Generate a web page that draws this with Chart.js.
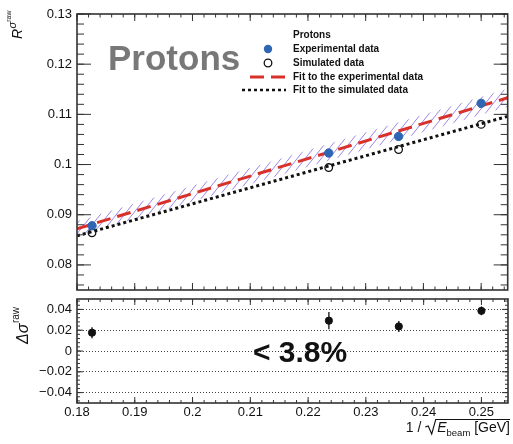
<!DOCTYPE html>
<html>
<head>
<meta charset="utf-8">
<script src="https://cdn.jsdelivr.net/npm/chart.js@4/dist/chart.umd.min.js"></script>
<style>
  html, body { margin: 0; padding: 0; background: #fff; }
  #wrap { position: relative; width: 513px; height: 444px; }
  #wrap canvas { position: absolute; left: 0; top: 0; }
</style>
</head>
<body>
<div id="wrap">
  <canvas id="residui" width="513" height="444"></canvas>
  <canvas id="rapporto" width="513" height="444"></canvas>
</div>
<script>
'use strict';

// ---- dati ----
const xVals    = [0.1826, 0.2236, 0.2357, 0.25];      // 1/sqrt(E) per 30, 20, 18, 16 GeV
const expData  = [0.0878, 0.1023, 0.1056, 0.1122];
const simData  = [0.0864, 0.0994, 0.1030, 0.1080];

const fitX     = [0.18, 0.2546];
const expFit   = [0.0872, 0.1133];
const simFit   = [0.0858, 0.1096];
const bandLow  = [0.0857, 0.1115];
const bandHigh = [0.0887, 0.1151];

const resData  = [0.0176, 0.0292, 0.0236, 0.0386];
const resErr   = [0.0053, 0.0082, 0.0053, 0.0043];

const xTicks   = [0.18, 0.19, 0.2, 0.21, 0.22, 0.23, 0.24, 0.25];
const topTicks = [0.08, 0.09, 0.1, 0.11, 0.12, 0.13];
const resTicks = [-0.04, -0.02, 0, 0.02, 0.04];

const X_MIN = 0.18, X_MAX = 0.2546;
const FONT = "'Liberation Sans', Arial, Helvetica, sans-serif";
const INK = '#111';

const pts = (xs, ys) => xs.map((x, i) => ({ x, y: ys[i] }));
const fmtTick = v => {
  const s = String(+Math.abs(v).toFixed(3));
  return v < -1e-9 ? '\u2212' + s : s;
};
const fixTicks = list => scale => { scale.ticks = list.map(v => ({ value: v })); };

// tratteggio della banda del fit
function hatchPattern() {
  const c = document.createElement('canvas');
  c.width = 8; c.height = 10;
  const g = c.getContext('2d');
  g.strokeStyle = 'rgba(140,110,228,0.85)';
  g.lineWidth = 1;
  g.beginPath();
  g.moveTo(0, 10); g.lineTo(8, 0);
  g.moveTo(-2, 2.5); g.lineTo(2, -2.5);
  g.moveTo(6, 12.5); g.lineTo(10, 7.5);
  g.stroke();
  return g.createPattern(c, 'repeat');
}

// tacche interne stile ROOT + cornice
function drawTicks(chart, id, step, len) {
  const s = chart.scales[id], a = chart.chartArea, ctx = chart.ctx;
  const n0 = Math.ceil(s.min / step - 1e-6), n1 = Math.floor(s.max / step + 1e-6);
  ctx.beginPath();
  for (let i = n0; i <= n1; i++) {
    const p = s.getPixelForValue(i * step);
    if (s.isHorizontal()) {
      ctx.moveTo(p, a.bottom); ctx.lineTo(p, a.bottom - len);
      ctx.moveTo(p, a.top);    ctx.lineTo(p, a.top + len);
    } else {
      ctx.moveTo(a.left, p);  ctx.lineTo(a.left + len, p);
      ctx.moveTo(a.right, p); ctx.lineTo(a.right - len, p);
    }
  }
  ctx.stroke();
}

function frameTicks(spec) {
  return {
    id: 'frameTicks',
    afterDraw(chart) {
      const ctx = chart.ctx, a = chart.chartArea;
      ctx.save();
      ctx.strokeStyle = '#333';
      ctx.lineWidth = 1;
      spec.forEach(t => drawTicks(chart, t[0], t[1], t[2]));
      ctx.lineWidth = 1.6;
      ctx.strokeRect(a.left, a.top, a.right - a.left, a.bottom - a.top);
      ctx.restore();
    }
  };
}

// testo ruotato con apici (titolo asse y)
function drawRotated(ctx, x, y, parts) {
  ctx.save();
  ctx.translate(x, y);
  ctx.rotate(-Math.PI / 2);
  ctx.fillStyle = INK;
  ctx.textBaseline = 'alphabetic';
  let cx = 0;
  parts.forEach(p => {
    ctx.font = p.font;
    ctx.fillText(p.t, cx + (p.dx || 0), -(p.rise || 0));
    cx += ctx.measureText(p.t).width + (p.dx || 0);
  });
  ctx.restore();
}

// ---- pannello superiore: annotazioni e legenda ----
const topDecor = {
  id: 'topDecor',
  afterDraw(chart) {
    const ctx = chart.ctx;
    ctx.save();
    ctx.fillStyle = '#787878';
    ctx.font = 'bold 35px ' + FONT;
    ctx.textBaseline = 'alphabetic';
    ctx.fillText('Protons', 108, 70);

    // legenda
    ctx.fillStyle = INK;
    ctx.font = 'bold 10px ' + FONT;
    ctx.textBaseline = 'middle';
    const tx = 293;
    const rows = ['Protons', 'Experimental data', 'Simulated data',
                  'Fit to the experimental data', 'Fit to the simulated data'];
    const ry = [35, 49, 63, 77, 90];
    rows.forEach((r, i) => ctx.fillText(r, tx, ry[i]));

    ctx.beginPath();
    ctx.fillStyle = '#2f66b3';
    ctx.arc(268, ry[1], 4.2, 0, Math.PI * 2);
    ctx.fill();
    ctx.beginPath();
    ctx.strokeStyle = INK;
    ctx.lineWidth = 1.3;
    ctx.arc(268, ry[2], 3.8, 0, Math.PI * 2);
    ctx.stroke();

    ctx.lineWidth = 3;
    ctx.strokeStyle = '#d8312b';
    ctx.setLineDash([14, 7]);
    ctx.beginPath(); ctx.moveTo(250, ry[3]); ctx.lineTo(285, ry[3]); ctx.stroke();
    ctx.strokeStyle = INK;
    ctx.lineWidth = 2.6;
    ctx.setLineDash([3, 3]);
    ctx.beginPath(); ctx.moveTo(242, ry[4]); ctx.lineTo(286, ry[4]); ctx.stroke();
    ctx.setLineDash([]);
    ctx.restore();

    drawRotated(ctx, 22, 39, [
      { t: 'R', font: 'italic 14px ' + FONT },
      { t: '\u03c3', font: 'italic 11px ' + FONT, rise: 6, dx: 0.5 },
      { t: 'raw', font: '7px ' + FONT, rise: 11 }
    ]);
  }
};

// ---- pannello inferiore: barre d'errore, titoli ----
const resDecor = {
  id: 'resDecor',
  beforeDatasetsDraw(chart) {
    const ctx = chart.ctx, sx = chart.scales.x, sy = chart.scales.y;
    ctx.save();
    ctx.strokeStyle = INK;
    ctx.lineWidth = 1.3;
    ctx.beginPath();
    xVals.forEach((x, i) => {
      const px = sx.getPixelForValue(x);
      ctx.moveTo(px, sy.getPixelForValue(resData[i] - resErr[i]));
      ctx.lineTo(px, sy.getPixelForValue(resData[i] + resErr[i]));
    });
    ctx.stroke();
    ctx.restore();
  },
  afterDraw(chart) {
    const ctx = chart.ctx;
    ctx.save();
    ctx.fillStyle = INK;
    ctx.textBaseline = 'alphabetic';
    ctx.font = 'bold 30px ' + FONT;
    ctx.fillText('< 3.8%', 253, 362);

    // 1 / sqrt(E_beam [GeV])
    const base = 432, right = 510;
    const fMain = '14px ' + FONT, fIt = 'italic 14px ' + FONT, fSub = '9.5px ' + FONT;
    const w = (t, f) => { ctx.font = f; return ctx.measureText(t).width; };
    const rootW = 12;
    const total = w('1 / ', fMain) + rootW + w('E', fIt) + w('beam', fSub) + w(' [GeV]', fMain);
    let x = right - total;
    ctx.font = fMain; ctx.fillText('1 / ', x, base); x += w('1 / ', fMain);
    const topY = base - 12.5;
    ctx.strokeStyle = INK;
    ctx.lineWidth = 1.1;
    ctx.beginPath();
    ctx.moveTo(x, base - 5);
    ctx.lineTo(x + 3, base - 6);
    ctx.lineTo(x + 6.5, base + 2);
    ctx.lineTo(x + 10.5, topY);
    ctx.lineTo(right, topY);
    ctx.stroke();
    x += rootW;
    ctx.font = fIt; ctx.fillText('E', x, base); x += w('E', fIt);
    ctx.font = fSub; ctx.fillText('beam', x, base + 3.5); x += w('beam', fSub);
    ctx.font = fMain; ctx.fillText(' [GeV]', x, base);
    ctx.restore();

    drawRotated(ctx, 28, 344, [
      { t: '\u0394', font: 'italic 16px ' + FONT },
      { t: '\u03c3', font: 'italic 16px ' + FONT },
      { t: 'raw', font: '10px ' + FONT, rise: 9, dx: 0.5 }
    ]);
  }
};

const tickFont = { family: FONT, size: 13 };

// ---- grafico superiore ----
const hatch = hatchPattern();
new Chart(document.getElementById('rapporto'), {
  type: 'scatter',
  data: {
    datasets: [
      { label: 'Experimental data', data: pts(xVals, expData), pointRadius: 4.2,
        backgroundColor: '#2f66b3', borderColor: '#2f66b3', order: 0 },
      { label: 'Simulated data', data: pts(xVals, simData), pointRadius: 3.8,
        pointBorderWidth: 1.3, backgroundColor: 'rgba(255,255,255,0)', borderColor: INK, order: 1 },
      { label: 'Fit to the experimental data', data: pts(fitX, expFit), showLine: true,
        pointRadius: 0, borderColor: '#d8312b', borderWidth: 3, borderDash: [14, 7], order: 2 },
      { label: 'Fit to the simulated data', data: pts(fitX, simFit), showLine: true,
        pointRadius: 0, borderColor: INK, borderWidth: 3, borderDash: [3, 3], order: 3 },
      { label: 'band low', data: pts(fitX, bandLow), showLine: true, pointRadius: 0,
        borderWidth: 0, borderColor: 'rgba(0,0,0,0)', fill: false, order: 5 },
      { label: 'band high', data: pts(fitX, bandHigh), showLine: true, pointRadius: 0,
        borderWidth: 0, borderColor: 'rgba(0,0,0,0)', backgroundColor: hatch, fill: '-1', order: 4 }
    ]
  },
  options: {
    responsive: false,
    animation: false,
    events: [],
    layout: { padding: { top: 14, right: 3, bottom: 154, left: 0 } },
    plugins: { legend: { display: false }, tooltip: { enabled: false } },
    scales: {
      x: { type: 'linear', min: X_MIN, max: X_MAX, display: false },
      y: {
        type: 'linear', min: 0.075, max: 0.13,
        afterBuildTicks: fixTicks(topTicks),
        afterFit: s => { s.width = 77; },
        grid: { display: false, drawTicks: false },
        border: { display: false },
        ticks: { font: tickFont, color: INK, padding: 5, callback: fmtTick }
      }
    }
  },
  plugins: [frameTicks([['x', 0.002, 3.5], ['x', 0.01, 7], ['y', 0.002, 7], ['y', 0.01, 14]]), topDecor]
});

// ---- grafico inferiore (residui) ----
new Chart(document.getElementById('residui'), {
  type: 'scatter',
  data: {
    datasets: [
      { label: 'residui', data: pts(xVals, resData), pointRadius: 3.6,
        backgroundColor: INK, borderColor: INK }
    ]
  },
  options: {
    responsive: false,
    animation: false,
    events: [],
    layout: { padding: { top: 299, right: 3, bottom: 0, left: 0 } },
    plugins: { legend: { display: false }, tooltip: { enabled: false } },
    scales: {
      x: {
        type: 'linear', min: X_MIN, max: X_MAX,
        afterBuildTicks: fixTicks(xTicks),
        afterFit: s => { s.height = 41; },
        grid: { display: false, drawTicks: false },
        border: { display: false },
        ticks: { font: tickFont, color: INK, padding: 2, maxRotation: 0, callback: fmtTick }
      },
      y: {
        type: 'linear', min: -0.05, max: 0.05,
        afterBuildTicks: fixTicks(resTicks),
        afterFit: s => { s.width = 77; },
        grid: { drawTicks: false, color: '#444', lineWidth: 1 },
        border: { display: false, dash: [1, 2] },
        ticks: { font: tickFont, color: INK, padding: 5, callback: fmtTick }
      }
    }
  },
  plugins: [frameTicks([['x', 0.002, 3], ['x', 0.01, 6], ['y', 0.004, 3], ['y', 0.02, 6]]), resDecor]
});
</script>
</body>
</html>
